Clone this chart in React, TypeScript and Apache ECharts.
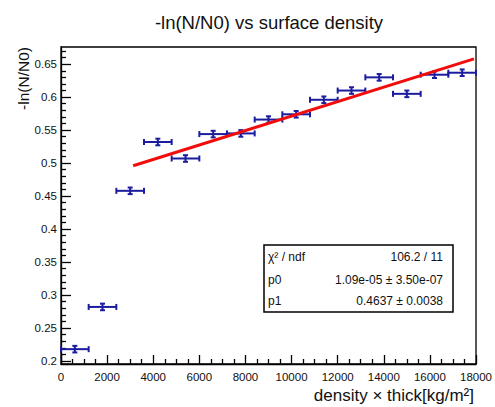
import React, { useEffect, useRef } from 'react';
import * as echarts from 'echarts';

// ---- data ----
const densityX = [600, 1800, 3000, 4200, 5400, 6600, 7800, 9000, 10200, 11400, 12600, 13800, 15000, 16200, 17400];
const densityErr = [600, 600, 600, 600, 600, 600, 600, 600, 600, 600, 600, 600, 600, 600, 600];
const lnValues = [0.218, 0.282, 0.458, 0.532, 0.507, 0.544, 0.545, 0.566, 0.574, 0.596, 0.610, 0.630, 0.605, 0.634, 0.637];
const lnErr = [0.005, 0.005, 0.005, 0.005, 0.005, 0.005, 0.005, 0.005, 0.005, 0.005, 0.005, 0.005, 0.005, 0.005, 0.005];
const fitX = [3130, 17910];
const fitY = [0.496, 0.658];
const xTickValues = [0, 2000, 4000, 6000, 8000, 10000, 12000, 14000, 16000, 18000];
const xTickLabels = ['0', '2000', '4000', '6000', '8000', '10000', '12000', '14000', '16000', '18000'];
const yTickValues = [0.2, 0.25, 0.3, 0.35, 0.4, 0.45, 0.5, 0.55, 0.6, 0.65];
const yTickLabels = ['0.2', '0.25', '0.3', '0.35', '0.4', '0.45', '0.5', '0.55', '0.6', '0.65'];
const yMinorTicks = [
  0.21, 0.22, 0.23, 0.24, 0.26, 0.27, 0.28, 0.29, 0.31, 0.32, 0.33, 0.34,
  0.36, 0.37, 0.38, 0.39, 0.41, 0.42, 0.43, 0.44, 0.46, 0.47, 0.48, 0.49,
  0.51, 0.52, 0.53, 0.54, 0.56, 0.57, 0.58, 0.59, 0.61, 0.62, 0.63, 0.64,
  0.66, 0.67,
];
const statLabels = ['χ² / ndf', 'p0', 'p1'];
const statValues = ['106.2 / 11', '1.09e-05 ± 3.50e-07', '0.4637 ± 0.0038'];

const FONT = '"Liberation Sans", Arial, Helvetica, sans-serif';
const BLUE = '#1c1c9e';
const Y_MIN = 0.1955;
const Y_MAX = 0.676;

export default function App() {
  const ref = useRef<HTMLDivElement>(null);
  useEffect(() => {
    if (!ref.current) return;
    const chart = echarts.init(ref.current, undefined, { renderer: 'svg' });
    const errData = densityX.map((x, i) => [x, lnValues[i], densityErr[i], lnErr[i]]);

    const statRowsY = [257, 279.5, 300.5];
    const statGraphics: any[] = [
      {
        type: 'rect',
        shape: { x: 264, y: 245, width: 189, height: 67 },
        style: { fill: '#fff', stroke: '#000', lineWidth: 1.5 },
        z: 100,
      },
    ];
    statLabels.forEach((l, i) => {
      statGraphics.push({
        type: 'text', x: 268, y: statRowsY[i], z: 101,
        style: { text: l, fill: '#111', font: `12px ${FONT}`, textAlign: 'left', textVerticalAlign: 'middle' },
      });
      statGraphics.push({
        type: 'text', x: 443, y: statRowsY[i], z: 101,
        style: { text: statValues[i], fill: '#111', font: `12px ${FONT}`, textAlign: 'right', textVerticalAlign: 'middle' },
      });
    });

    chart.setOption({
      animation: false,
      backgroundColor: '#fff',
      grid: {
        left: 61, right: 17, top: 47, bottom: 43,
        show: true, borderColor: '#000', borderWidth: 1.3, backgroundColor: 'transparent',
      },
      xAxis: {
        type: 'value', min: 0, max: 18000, interval: 2000,
        axisLine: { show: true, lineStyle: { color: '#000', width: 1.3 } },
        axisTick: { show: true, inside: true, length: 9, lineStyle: { color: '#000', width: 1.3 } },
        minorTick: { show: true, splitNumber: 4, length: 5, lineStyle: { color: '#000', width: 1.3 } },
        axisLabel: {
          color: '#111', fontSize: 11.5, fontFamily: FONT, margin: 7,
          customValues: xTickValues,
          formatter: (v: number) => {
            const i = xTickValues.indexOf(v);
            return i >= 0 ? xTickLabels[i] : '';
          },
        },
        splitLine: { show: false },
      },
      yAxis: [
        {
          type: 'value', min: Y_MIN, max: Y_MAX,
          axisLine: { show: true, lineStyle: { color: '#000', width: 1.3 } },
          axisTick: { show: true, inside: true, length: 10, customValues: yTickValues, lineStyle: { color: '#000', width: 1.3 } },
          axisLabel: {
            color: '#111', fontSize: 11.5, fontFamily: FONT, margin: 4,
            customValues: yTickValues,
            formatter: (v: number) => {
              let best = 0;
              yTickValues.forEach((t, i) => { if (Math.abs(t - v) < Math.abs(yTickValues[best] - v)) best = i; });
              return yTickLabels[best];
            },
          },
          splitLine: { show: false },
        },
        {
          type: 'value', min: Y_MIN, max: Y_MAX, position: 'left', offset: 0,
          axisLine: { show: false },
          axisTick: { show: true, inside: true, length: 5, customValues: yMinorTicks, lineStyle: { color: '#000', width: 1.3 } },
          axisLabel: { show: false },
          splitLine: { show: false },
        },
      ],
      graphic: [
        {
          type: 'text', x: 269, y: 22,
          style: { text: '-ln(N/N0) vs surface density', fill: '#111', font: `18.5px ${FONT}`, textAlign: 'center', textVerticalAlign: 'middle' },
        },
        {
          type: 'text', x: 23, y: 47, rotation: Math.PI / 2,
          style: { text: '-ln(N/N0)', fill: '#111', font: `15.5px ${FONT}`, textAlign: 'right', textVerticalAlign: 'middle' },
        },
        {
          type: 'text', x: 474, y: 395,
          style: { text: 'density × thick[kg/m²]', fill: '#111', font: `17px ${FONT}`, textAlign: 'right', textVerticalAlign: 'middle' },
        },
        ...statGraphics,
      ],
      series: [
        {
          type: 'custom',
          xAxisIndex: 0, yAxisIndex: 0,
          data: errData,
          clip: false,
          z: 5,
          renderItem: (params: any, api: any) => {
            const x = api.value(0), y = api.value(1), xe = api.value(2), ye = api.value(3);
            const pL = api.coord([x - xe, y]);
            const pR = api.coord([x + xe, y]);
            const pT = api.coord([x, y + ye]);
            const pB = api.coord([x, y - ye]);
            const st = { stroke: BLUE, lineWidth: 2 };
            const capH = 3;
            const capW = 2.5;
            const ln = (x1: number, y1: number, x2: number, y2: number) => ({
              type: 'line', shape: { x1, y1, x2, y2 }, style: st,
            });
            return {
              type: 'group',
              children: [
                ln(pL[0], pL[1], pR[0], pR[1]),
                ln(pL[0], pL[1] - capH, pL[0], pL[1] + capH),
                ln(pR[0], pR[1] - capH, pR[0], pR[1] + capH),
                ln(pT[0], pT[1], pB[0], pB[1]),
                ln(pT[0] - capW, pT[1], pT[0] + capW, pT[1]),
                ln(pB[0] - capW, pB[1], pB[0] + capW, pB[1]),
              ],
            };
          },
        },
        {
          type: 'line',
          xAxisIndex: 0, yAxisIndex: 0,
          data: fitX.map((x, i) => [x, fitY[i]]),
          showSymbol: false,
          symbol: 'none',
          z: 10,
          lineStyle: { color: '#f20d0d', width: 3 },
        },
      ],
    });
    return () => chart.dispose();
  }, []);
  return <div ref={ref} style={{ position: 'absolute', left: 0, top: 0, width: 495, height: 407 }} />;
}
